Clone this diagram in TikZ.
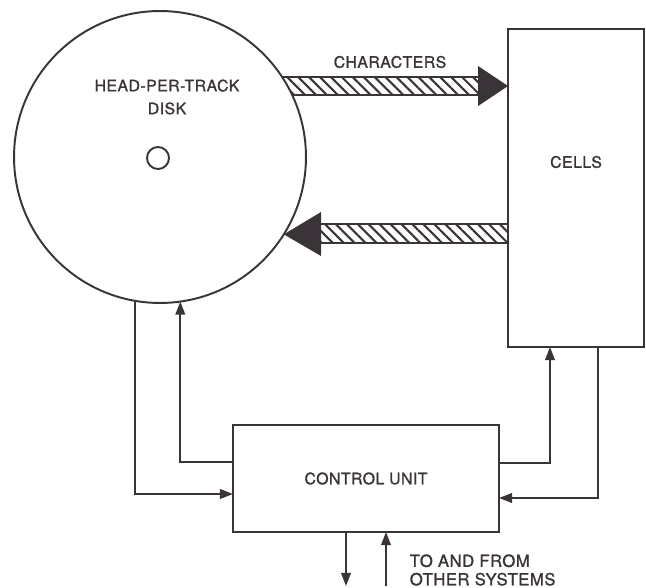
\documentclass[tikz,border=0pt]{standalone}
\usepackage{fontspec}
\setmainfont[FakeBold=1.2,LetterSpace=3]{TeX Gyre Heros}
\usepackage{xcolor}
\usetikzlibrary{positioning,arrows.meta,patterns.meta}
\definecolor{ink}{RGB}{58,52,56}

\begin{document}
\begin{tikzpicture}[
  x=0.02cm, y=-0.02cm, color=ink, line width=1.1pt,
  unit/.style={draw, rectangle, inner sep=0pt, outer sep=0pt},
  lbl/.style={font=\fontsize{9}{13}\selectfont, align=center},
  arr/.style={-{Triangle[length=7.5pt,width=5.5pt]}},
  hatch/.style={pattern={Lines[angle=-45,distance=4.4pt,line width=1.2pt]}, pattern color=ink},
  band/.style={line width=1.1pt},
]
\useasboundingbox (0,0) rectangle (646,588);

% Cells and control unit
\node[unit, minimum width=2.72cm, minimum height=6.36cm] (cells) at (576,188) {};
\node[lbl] (cellslbl) at ([yshift=0.52cm]cells.center) {CELLS};
\node[unit, minimum width=5.32cm, minimum height=2.14cm, lbl] (ctrl) at (366,478.5) {CONTROL UNIT};

% Characters band, disk to cells
\fill[hatch] (270,77) rectangle (480,95);
\draw[band] (270,77) -- (480,77) (270,95) -- (480,95);
\fill (478,66) -- (cells.west |- 0,86) -- (478,106) -- cycle;
\node[lbl] (chars) at (390,62) {CHARACTERS};

% Disk
\node[draw, circle, fill=white, minimum size=5.84cm, inner sep=0pt, outer sep=0pt] (disk) at (160,157) {};
\node[draw, circle, minimum size=0.44cm, inner sep=0pt] (hub) at (158,158) {};
\node[lbl] (disklbl) at ([xshift=0.14cm,yshift=1.2cm]disk.center) {HEAD-PER-TRACK\\DISK};

% Return band, cells to disk
\fill[hatch] (318,224) rectangle (cells.west |- 0,243);
\draw[band] (318,224) -- (cells.west |- 0,224) (318,243) -- (cells.west |- 0,243);
\fill (321,212) -- (disk.-32) -- (321,256) -- cycle;

% Disk <-> control unit
\draw[arr] (disk.-100) |- ([yshift=-0.31cm]ctrl.west);
\draw[arr] ([yshift=0.33cm]ctrl.west) -| (disk.-82);

% Control unit <-> cells
\draw[arr] ([yshift=0.31cm]ctrl.east) -| ([xshift=-0.52cm]cells.south);
\draw[arr] ([xshift=0.44cm]cells.south) |- ([yshift=-0.39cm]ctrl.east);

% Other systems
\coordinate (sysout) at (346,586);
\coordinate (sysin) at (386,586);
\draw[arr] (ctrl.south -| sysout) -- (sysout);
\draw[arr] (sysin) -- (ctrl.south -| sysin);
\node[lbl, font=\fontsize{9.5}{10.5}\selectfont, align=left, anchor=west] (sys) at (403,570) {TO AND FROM\\OTHER SYSTEMS};
\end{tikzpicture}
\end{document}
